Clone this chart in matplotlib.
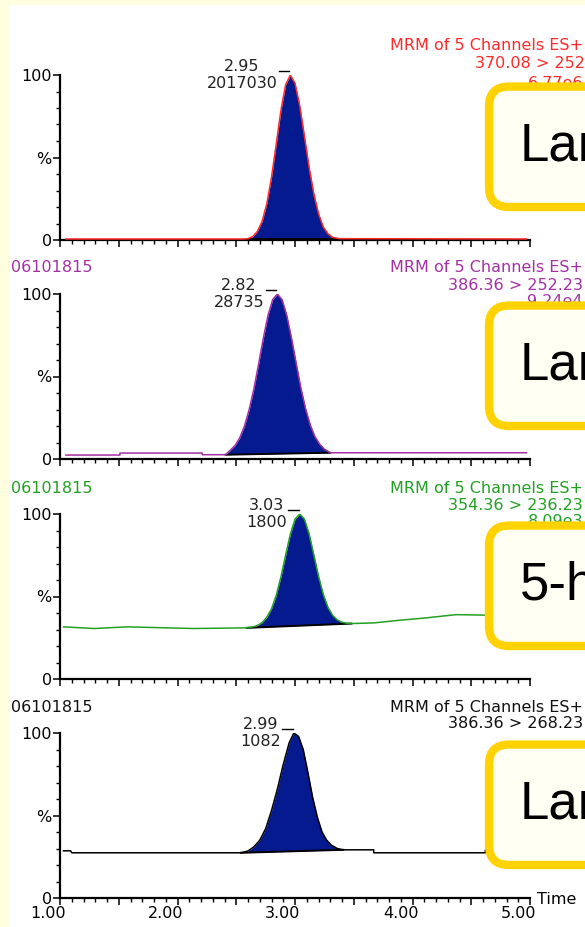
import numpy as np
import matplotlib
matplotlib.use("Agg")
import matplotlib.pyplot as plt
import matplotlib.transforms as mtransforms
from matplotlib.patches import FancyBboxPatch, Rectangle
from matplotlib.ticker import MultipleLocator

# ---------------- data ----------------
t1 = [1.05, 2.56, 2.60, 2.64, 2.68, 2.72, 2.76, 2.80, 2.84, 2.88, 2.92, 2.96,
      3.00, 3.04, 3.08, 3.12, 3.16, 3.20, 3.24, 3.28, 3.32, 3.38, 3.60, 4.97]
y1 = [0.6, 0.6, 0.8, 2.1, 5.2, 11.3, 22, 38, 58, 78.5, 94, 100,
      95, 81.5, 63, 44, 28, 16, 8, 3.8, 1.6, 0.8, 0.8, 0.6]

t2 = [1.05, 1.51, 1.51, 2.21, 2.21, 2.41, 2.45, 2.49, 2.53, 2.57, 2.61, 2.65,
      2.69, 2.73, 2.77, 2.81, 2.85, 2.89, 2.93, 2.97, 3.01, 3.05, 3.09, 3.13,
      3.17, 3.21, 3.25, 3.30, 4.97]
y2 = [2.4, 2.4, 3.6, 3.6, 2.6, 2.6, 5.4, 8.2, 12.9, 20, 30, 42.5,
      57.5, 73, 87, 96.6, 100, 96.6, 87, 73.3, 58, 43, 30.5, 20.6,
      13.5, 9, 6, 3.8, 3.8]

t3 = [1.03, 1.29, 1.57, 2.14, 2.59, 2.64, 2.68, 2.72, 2.76, 2.80, 2.84, 2.88,
      2.92, 2.96, 3.00, 3.04, 3.08, 3.12, 3.16, 3.20, 3.24, 3.28, 3.32, 3.36,
      3.40, 3.44, 3.48, 3.67, 3.89, 4.11, 4.37, 4.56, 4.97]
y3 = [31.6, 30.6, 31.6, 30.6, 31.0, 31.6, 32.4, 34.2, 37.4, 42.5, 50.6, 61.8,
      75.0, 87.7, 96.8, 100, 96.9, 87.9, 75.3, 62.3, 51.4, 43.5, 38.6, 35.8,
      34.4, 33.8, 33.6, 34.0, 35.6, 37.0, 39.0, 38.8, 38.0]

t4 = [1.03, 1.09, 1.10, 2.54, 2.60, 2.65, 2.70, 2.75, 2.80, 2.85, 2.90, 2.95,
      2.99, 3.03, 3.07, 3.11, 3.15, 3.19, 3.23, 3.27, 3.31, 3.36, 3.41, 3.67,
      3.67, 4.62, 4.62, 4.97]
y4 = [28.6, 28.6, 27.4, 27.4, 28.5, 31, 35, 42, 53, 66, 81, 94,
      100, 98, 90, 76, 61, 49, 40, 35, 32, 30, 29.2, 29.2,
      27.4, 27.4, 29, 29]

# integration baselines (start/end time, start/end intensity)
base_t = [[2.60, 3.35], [2.41, 3.30], [2.59, 3.48], [2.54, 3.41]]
base_y = [[0.6, 0.6], [2.6, 3.8], [31.0, 33.6], [27.4, 29.2]]

ret_times = ["2.95", "2.82", "3.03", "2.99"]
areas = ["2017030", "28735", "1800", "1082"]
transitions = ["370.08 > 252", "386.36 > 252.23", "354.36 > 236.23", "386.36 > 268.23"]
intensities = ["6.77e6", "9.24e4", "8.09e3", ""]
sample_ids = ["", "06101815", "06101815", "06101815"]
box_labels = ["Lar", "Lar", "5-h", "Lar"]
x_ticklabels = ["1.00", "2.00", "3.00", "4.00", "5.00"]

traces = [(t1, y1), (t2, y2), (t3, y3), (t4, y4)]
colors = ["#ff2a2a", "#a431a4", "#22a022", "#000000"]
text_colors = ["#ff2a2a", "#a431a4", "#22a022", "#111111"]
fill_color = "#041a8e"

# ---------------- layout ----------------
W, H = 585, 927
DPI = 100
zero_px = [240, 459, 679, 898]
panel_h = 165
ax_left, ax_right = 60, 530
FS = 11.5

plt.rcParams["font.family"] = ["DejaVu Sans"]

fig = plt.figure(figsize=(W / DPI, H / DPI), dpi=DPI)
fig.patch.set_facecolor("#ffffe0")
fig.add_artist(Rectangle((10, 0), W - 10, H - 5, transform=mtransforms.IdentityTransform(),
                         facecolor="white", edgecolor="none", zorder=-1))


def fx(x):
    return x / W


def fy(y):
    return 1 - y / H


for i, (tt, yy) in enumerate(traces):
    z = zero_px[i]
    ax = fig.add_axes([fx(ax_left), fy(z), (ax_right - ax_left) / W, panel_h / H])
    ax.set_facecolor("none")
    ax.set_xlim(1, 5)
    ax.set_ylim(0, 100)

    tt = np.array(tt)
    yy = np.array(yy)

    # integrated area
    b0, b1 = base_t[i]
    sel = (tt >= b0) & (tt <= b1)
    ft = np.concatenate([[b0], tt[sel], [b1]])
    fv = np.interp(ft, tt, yy)
    fb = np.interp(ft, base_t[i], base_y[i])
    ax.fill_between(ft, fb, fv, color=fill_color, lw=0, zorder=2)
    ax.plot(base_t[i], base_y[i], color="black", lw=1.4, zorder=3)
    ax.plot(tt, yy, color=colors[i], lw=1.1, zorder=4)

    # peak label
    pk = tt[np.argmax(yy)]
    ax.plot([pk - 0.10, pk - 0.01], [102.5, 102.5], color="black", lw=1, clip_on=False)
    ax.text(pk - 0.11, 100, ret_times[i] + "\n" + areas[i], ha="right", va="center",
            multialignment="center", fontsize=FS, color="#222222", linespacing=1.1)

    # axes styling
    for s in ["top", "right"]:
        ax.spines[s].set_visible(False)
    for s in ["left", "bottom"]:
        ax.spines[s].set_linewidth(1.6)
    ax.set_xticks(np.arange(1, 5.01, 0.5))
    ax.xaxis.set_minor_locator(MultipleLocator(0.1))
    ax.set_yticks([0, 50, 100])
    ax.set_yticklabels(["0", "%", "100"])
    ax.yaxis.set_minor_locator(MultipleLocator(10))
    ax.tick_params(axis="both", which="major", direction="out", length=5, width=1.1,
                   labelsize=FS, colors="black", pad=1)
    ax.tick_params(axis="both", which="minor", direction="out", length=3, width=1.0)
    if i < 3:
        ax.set_xticklabels([])
    else:
        labels = [x_ticklabels[k // 2] if k % 2 == 0 else "" for k in range(9)]
        ax.set_xticklabels(labels)
        ax.tick_params(axis="x", which="major", pad=1)
        off = mtransforms.ScaledTranslation(-12 / DPI, 0, fig.dpi_scale_trans)
        for lab in ax.get_xticklabels():
            lab.set_transform(lab.get_transform() + off)
        fig.text(fx(537), fy(z + 1), "Time", fontsize=FS, ha="left", va="center")

    # header text
    top = z - panel_h
    y_line1 = top - 29 if i == 0 else top - 26
    fig.text(fx(583), fy(y_line1), "MRM of 5 Channels ES+", ha="right", va="center",
             fontsize=FS, color=text_colors[i], zorder=3)
    if i == 0:
        fig.text(fx(475), fy(y_line1 + 18), transitions[i], ha="left", va="center",
                 fontsize=FS, color=text_colors[i], zorder=3)
    else:
        fig.text(fx(583), fy(y_line1 + 17), transitions[i], ha="right", va="center",
                 fontsize=FS, color=text_colors[i], zorder=3)
    if intensities[i]:
        dy = 37 if i == 0 else 34
        fig.text(fx(583), fy(y_line1 + dy), intensities[i], ha="right", va="center",
                 fontsize=FS, color=text_colors[i], zorder=3)
    if sample_ids[i]:
        fig.text(fx(11), fy(y_line1), sample_ids[i], ha="left", va="center",
                 fontsize=FS, color=text_colors[i], zorder=3)

    # callout box
    box_top = z - 0.93 * panel_h
    box_bot = z - 0.20 * panel_h
    box = FancyBboxPatch((489, H - box_bot), 250, box_bot - box_top,
                         boxstyle="round,pad=0,rounding_size=20",
                         transform=mtransforms.IdentityTransform(),
                         facecolor="#fffff4", edgecolor="#ffd200", lw=6, zorder=5)
    fig.add_artist(box)
    fig.text(fx(520), fy((box_top + box_bot) / 2), box_labels[i], ha="left", va="center",
             fontsize=38, color="black", family="Liberation Sans", zorder=6)

fig.savefig("out.png", dpi=DPI)
